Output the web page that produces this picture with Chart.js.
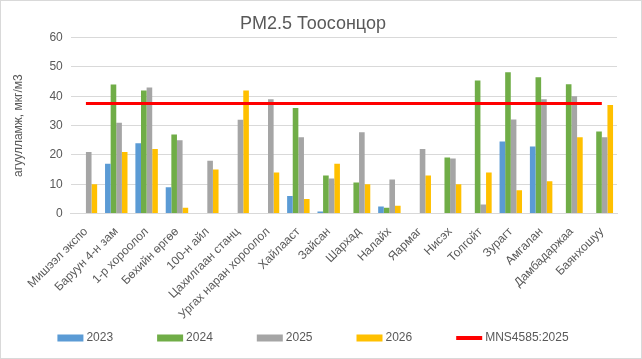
<!DOCTYPE html>
<html>
<head>
<meta charset="utf-8">
<script src="https://cdn.jsdelivr.net/npm/chart.js@4"></script>
<style>
  html, body { margin: 0; padding: 0; background: #fff; }
  #wrap { position: relative; width: 642px; height: 359px; box-sizing: border-box; border: 1px solid #d9d9d9; }
</style>
</head>
<body>
<div id="wrap"><canvas id="myChart"></canvas></div>
<script>
const stations = ['Мишээл экспо', 'Баруун 4-н зам', '1-р хороолол', 'Бөхийн өргөө', '100-н айл',
    'Цахилгаан станц', 'Ургах наран хороолол', 'Хайлааст', 'Зайсан', 'Шархад', 'Налайх',
    'Яармаг', 'Нисэх', 'Толгойт', 'Зурагт', 'Амгалан', 'Дамбадаржаа', 'Баянхошуу'];
const y2023 = [null, 17, 24, 9, null, null, null, 6, 0.7, null, 2.4, null, null, null, 24.6, 22.9, null, null];
const y2024 = [null, 44, 42, 27, null, null, null, 36, 13, 10.6, 2, null, 19.1, 45.4, 48.2, 46.5, 44.1, 28];
const y2025 = [21, 31, 43, 25, 18, 32, 39, 26, 12, 27.7, 11.6, 22, 18.8, 3.1, 32.1, 39, 40, 26];
const y2026 = [10, 21, 22, 2, 15, 42, 14, 5, 17, 10, 2.7, 13, 10, 14, 8, 11, 26, 37];
const mns = [37.5, 37.5, 37.5, 37.5, 37.5, 37.5, 37.5, 37.5, 37.5, 37.5, 37.5, 37.5, 37.5, 37.5, 37.5, 37.5, 37.5, 37.5];
const yTicks = [0, 10, 20, 30, 40, 50, 60];

const textColor = '#595959';
const fontFamily = '"Liberation Sans", Arial, sans-serif';

// legend drawn by hand so the items can sit far apart without a tall legend box
const bottomLegend = {
    id: 'bottomLegend',
    afterDraw(chart) {
        const ctx = chart.ctx;
        const gap = 44;
        ctx.save();
        ctx.font = '12px ' + fontFamily;
        const items = chart.data.datasets.map(ds => ({
            ds: ds, w: 26 + 3 + ctx.measureText(ds.label).width
        }));
        const total = items.reduce((s, it) => s + it.w, 0) + gap * (items.length - 1);
        let x = 312 - total / 2;
        const y = 337;
        for (const it of items) {
            if (it.ds.type === 'line') {
                ctx.fillStyle = it.ds.borderColor;
                ctx.fillRect(x, y - 2, 26, 4);
            } else {
                ctx.fillStyle = it.ds.backgroundColor;
                ctx.fillRect(x, y - 3.5, 26, 7);
            }
            ctx.fillStyle = textColor;
            ctx.textBaseline = 'middle';
            ctx.fillText(it.ds.label, x + 29, y);
            x += it.w + gap;
        }
        ctx.restore();
    }
};

window.onload = () => {
    const ctx = document.getElementById('myChart');
    const bar = (label, data, color) => ({
        type: 'bar', label: label, data: data, backgroundColor: color,
        borderWidth: 0, categoryPercentage: 0.74, barPercentage: 1, order: 2
    });
    new Chart(ctx, {
        data: {
            labels: stations,
            datasets: [
                bar('2023', y2023, '#5B9BD5'),
                bar('2024', y2024, '#70AD47'),
                bar('2025', y2025, '#A5A5A5'),
                bar('2026', y2026, '#FFC000'),
                {
                    type: 'line', label: 'MNS4585:2025', data: mns,
                    borderColor: '#FF0000', backgroundColor: '#FF0000',
                    borderWidth: 3, pointRadius: 0, order: 1
                }
            ]
        },
        plugins: [bottomLegend],
        options: {
            responsive: true,
            maintainAspectRatio: false,
            animation: false,
            layout: { padding: { left: 8, right: 24, top: 0, bottom: 33 } },
            plugins: {
                title: {
                    display: true, text: 'PM2.5 Тоосонцор', color: textColor,
                    font: { family: fontFamily, size: 18, weight: 'normal' },
                    padding: { top: 12, bottom: 3 }
                },
                legend: { display: false },
                tooltip: { enabled: false }
            },
            scales: {
                x: {
                    grid: { display: false },
                    border: { color: '#d9d9d9' },
                    // rotated labels may hang left past the plot, as in the original
                    afterFit: (scale) => { scale.paddingLeft = 0; scale.paddingRight = 0; },
                    ticks: {
                        color: textColor, autoSkip: false, maxRotation: 45, minRotation: 45,
                        font: { family: fontFamily, size: 12 }
                    }
                },
                y: {
                    min: 0, max: 60,
                    afterBuildTicks: (axis) => { axis.ticks = yTicks.map(v => ({ value: v })); },
                    grid: { color: '#d9d9d9', drawTicks: false },
                    border: { display: false },
                    ticks: { color: textColor, padding: 8, font: { family: fontFamily, size: 12 } },
                    title: {
                        display: true, text: 'агуулламж, мкг/м3', color: textColor,
                        padding: { top: 2, bottom: 16 },
                        font: { family: fontFamily, size: 12 }
                    }
                }
            }
        }
    });
};
</script>
</body>
</html>
